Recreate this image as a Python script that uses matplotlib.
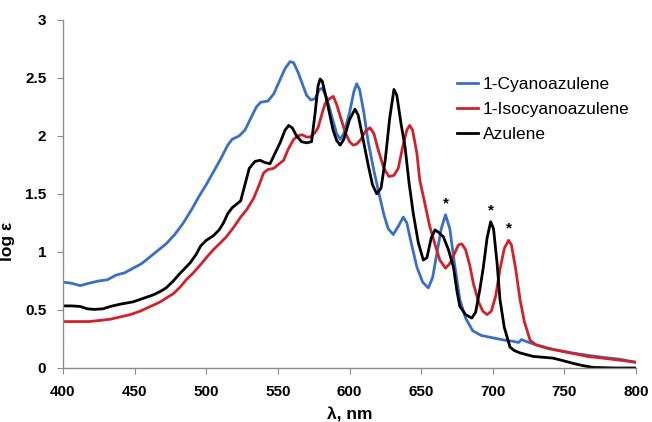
import matplotlib
matplotlib.use('Agg')
import matplotlib.pyplot as plt

plt.rcParams['font.family'] = ['Liberation Sans', 'DejaVu Sans']

# 1-Cyanoazulene (blue)
wl_cyano = [400, 406, 412, 418, 425, 431, 437, 443, 449, 455, 460, 466, 472, 478, 484, 490,
            495, 500, 505, 510, 515, 518, 523, 527, 531, 535, 538, 543, 547, 551, 555, 558.5,
            561, 564, 567, 570, 573, 576, 579, 581, 584, 588, 591, 593.5, 596, 600, 603, 605,
            607, 610, 613, 617, 621, 624, 627, 630.5, 634, 637.5, 640, 643, 647, 651, 655, 658,
            661, 664, 667, 670, 673, 677, 681, 686, 692, 700, 708, 714, 718, 720, 723, 730,
            742, 755, 766, 778, 789, 799]
eps_cyano = [0.74, 0.73, 0.71, 0.73, 0.75, 0.76, 0.80, 0.82, 0.86, 0.90, 0.95, 1.01, 1.07, 1.15, 1.25, 1.37,
             1.48, 1.58, 1.69, 1.80, 1.92, 1.97, 2.00, 2.05, 2.15, 2.25, 2.29, 2.30, 2.36, 2.47, 2.58, 2.64,
             2.63, 2.55, 2.45, 2.35, 2.31, 2.32, 2.40, 2.41, 2.33, 2.15, 2.02, 1.97, 2.02, 2.20, 2.38, 2.45,
             2.40, 2.20, 1.95, 1.70, 1.48, 1.32, 1.20, 1.15, 1.22, 1.30, 1.25, 1.08, 0.87, 0.74, 0.69, 0.78,
             0.99, 1.20, 1.32, 1.20, 0.92, 0.59, 0.43, 0.32, 0.28, 0.26, 0.24, 0.23, 0.22, 0.245, 0.23, 0.20,
             0.16, 0.13, 0.11, 0.09, 0.075, 0.05]

# 1-Isocyanoazulene (red)
wl_iso = [400, 410, 418, 426, 433, 440, 447, 454, 461, 468, 473, 477, 482, 486, 491, 496,
          500, 505, 510, 514, 519, 524, 528, 533, 537, 540, 543, 547, 550, 554, 557, 561,
          564, 567, 570, 572.5, 576, 578, 581, 583, 586, 588.7, 591, 593.5, 597, 600, 602.6, 605,
          608, 611, 614.3, 617, 620, 624, 627.5, 631, 634, 637, 640, 642, 644, 647, 649, 652,
          656, 660, 663, 667, 670, 673, 676, 678.3, 681, 684, 686.4, 690, 693, 696, 699, 702,
          705, 708, 711, 713, 716, 719, 722, 726, 730, 738, 750, 766, 780, 790, 800]
eps_iso = [0.40, 0.40, 0.40, 0.41, 0.42, 0.44, 0.46, 0.49, 0.53, 0.57, 0.61, 0.64, 0.70, 0.76, 0.82, 0.89,
           0.95, 1.02, 1.08, 1.13, 1.21, 1.30, 1.36, 1.46, 1.58, 1.68, 1.71, 1.72, 1.75, 1.79, 1.88, 1.97,
           2.00, 2.01, 1.99, 1.99, 2.03, 2.07, 2.20, 2.28, 2.32, 2.34, 2.27, 2.17, 2.03, 1.95, 1.92, 1.93,
           1.97, 2.04, 2.07, 2.02, 1.88, 1.72, 1.65, 1.66, 1.72, 1.90, 2.05, 2.09, 2.05, 1.85, 1.62, 1.45,
           1.22, 1.05, 0.93, 0.86, 0.90, 0.98, 1.06, 1.07, 1.02, 0.88, 0.73, 0.57, 0.49, 0.46, 0.49, 0.62,
           0.85, 1.03, 1.10, 1.06, 0.85, 0.59, 0.40, 0.24, 0.20, 0.17, 0.14, 0.10, 0.08, 0.065, 0.05]

# Azulene (black)
wl_az = [400, 406, 412, 417, 422, 428, 433, 440, 449, 456, 463, 468, 472, 477, 482, 486,
         489, 493, 496, 500, 505, 509, 512, 515, 518, 521, 524, 527, 530, 534, 537.5, 541,
         544.5, 548, 551.5, 555, 557.5, 560, 563, 566.5, 570, 573.5, 576, 578, 579.5, 581, 584, 588.5,
         591, 593.5, 596, 600, 603.8, 606, 609, 613, 616, 619, 622, 625, 628, 631, 633, 636,
         638.7, 641.5, 644.5, 648, 651.5, 654, 657, 659.7, 662, 665.5, 669, 672.5, 675, 677, 681, 685.3,
         688, 691, 693.4, 696, 698.5, 700.5, 703, 705, 708, 712, 715, 719, 728, 742, 750, 756,
         763, 770, 785, 800]
eps_az = [0.535, 0.535, 0.53, 0.51, 0.505, 0.51, 0.53, 0.55, 0.57, 0.60, 0.63, 0.66, 0.69, 0.75, 0.82, 0.87,
          0.91, 0.98, 1.05, 1.10, 1.14, 1.19, 1.25, 1.33, 1.38, 1.41, 1.44, 1.58, 1.72, 1.78, 1.79, 1.77,
          1.76, 1.85, 1.94, 2.05, 2.09, 2.07, 2.00, 1.95, 1.94, 1.95, 2.20, 2.43, 2.49, 2.47, 2.31, 2.05,
          1.96, 1.92, 1.97, 2.14, 2.23, 2.18, 2.00, 1.75, 1.58, 1.50, 1.55, 1.80, 2.15, 2.40, 2.35, 2.10,
          1.91, 1.60, 1.33, 1.08, 0.93, 0.95, 1.12, 1.19, 1.17, 1.13, 1.02, 0.87, 0.66, 0.53, 0.46, 0.43,
          0.48, 0.68, 0.87, 1.12, 1.26, 1.20, 0.90, 0.59, 0.35, 0.18, 0.15, 0.13, 0.10, 0.085, 0.06, 0.04,
          0.02, 0.005, 0.0, 0.0]

# peaks marked with an asterisk
star_wl = [667, 698.5, 711]
star_eps = [1.32, 1.26, 1.10]

fig = plt.figure(figsize=(6.52, 4.22), dpi=100)
ax = fig.add_axes([0.0966, 0.128, 0.879, 0.825])

ax.plot(wl_cyano, eps_cyano, color='#3a6fc4', linewidth=2.0, label='1-Cyanoazulene')
ax.plot(wl_iso, eps_iso, color='#d0222a', linewidth=2.0, label='1-Isocyanoazulene')
ax.plot(wl_az, eps_az, color='black', linewidth=2.0, label='Azulene')

for x, y in zip(star_wl, star_eps):
    ax.text(x, y + 0.04, '*', ha='center', va='bottom', fontsize=11, fontweight='bold')

ax.set_xlim(400, 800)
ax.set_ylim(0, 3)
ax.set_xticks(range(400, 801, 50))
ax.set_yticks([0, 0.5, 1, 1.5, 2, 2.5, 3])
ax.set_yticklabels(['0', '0.5', '1', '1.5', '2', '2.5', '3'])

for side in ['top', 'right']:
    ax.spines[side].set_visible(False)
for side in ['left', 'bottom']:
    ax.spines[side].set_color('#8c8c8c')
    ax.spines[side].set_linewidth(1.0)
ax.tick_params(direction='out', length=4, color='#8c8c8c', labelsize=11, pad=8)
for lbl in ax.get_xticklabels() + ax.get_yticklabels():
    lbl.set_fontweight('bold')

ax.set_xlabel('λ, nm', fontsize=12.5, fontweight='bold')
ax.set_ylabel('log ε', fontsize=12.5, fontweight='bold')
ax.xaxis.set_label_coords(0.5, -0.112)
ax.yaxis.set_label_coords(-0.084, 0.365)

ax.legend(loc='upper left', bbox_to_anchor=(0.672, 0.862), frameon=False, fontsize=12.5,
          handlelength=1.25, handletextpad=0.25, labelspacing=0.58, borderpad=0)

fig.savefig('out.png', dpi=100)
